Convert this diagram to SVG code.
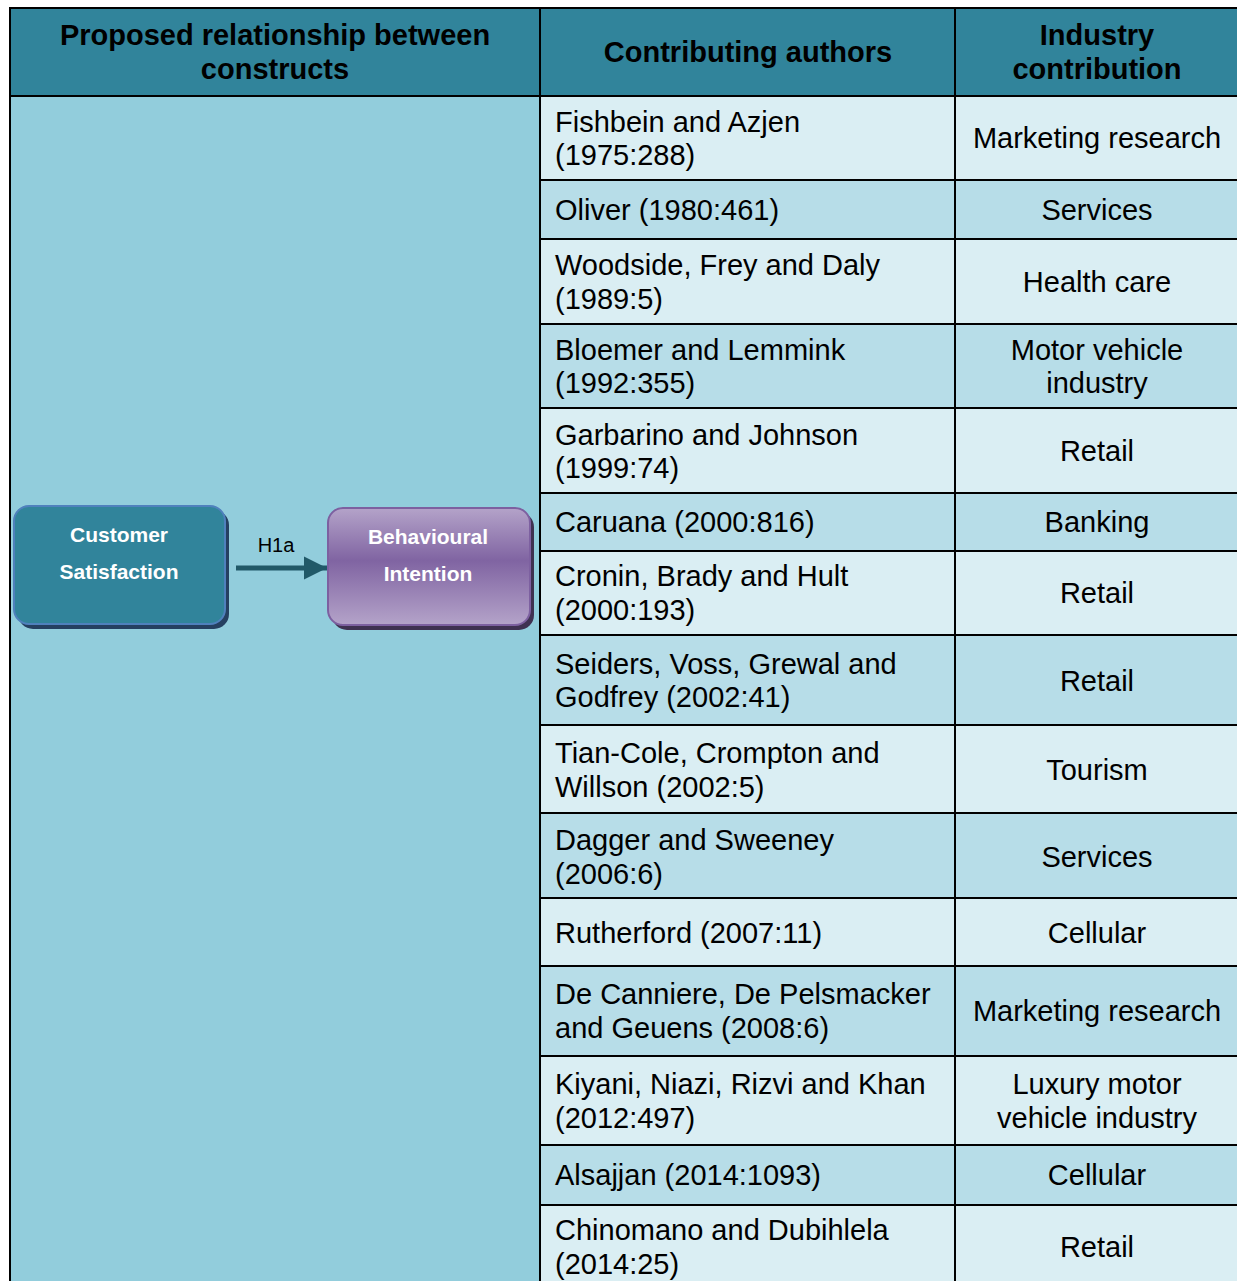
<svg xmlns="http://www.w3.org/2000/svg" width="1237" height="1281" viewBox="0 0 1237 1281">
  <style>
    .hdr { font-family: "Liberation Sans", Arial, sans-serif; font-size: 29px; font-weight: bold; fill: #000; text-anchor: middle; }
    .au { font-family: "Liberation Sans", Arial, sans-serif; font-size: 29px; fill: #000; }
    .ind { font-family: "Liberation Sans", Arial, sans-serif; font-size: 29px; fill: #000; text-anchor: middle; }
    .node-label { font-family: "Liberation Sans", Arial, sans-serif; font-size: 21px; font-weight: bold; fill: #fff; text-anchor: middle; }
    .edge-label { font-family: "Liberation Sans", Arial, sans-serif; font-size: 20px; fill: #000; text-anchor: middle; }
    .light { fill: #DAEEF3; }
    .dark { fill: #B7DDE8; }
    .grid { stroke: #000; stroke-width: 2; fill: none; }
  </style>
  <defs>
    <linearGradient id="purpleFill" x1="0" y1="0" x2="0" y2="1">
      <stop offset="0" stop-color="#B4A3C9"/>
      <stop offset="0.45" stop-color="#8064A2"/>
      <stop offset="1" stop-color="#B4A3C9"/>
    </linearGradient>
    <marker id="arrowHead" viewBox="0 0 10 10" refX="10" refY="5" markerWidth="4.6" markerHeight="5" orient="auto" markerUnits="strokeWidth">
      <path d="M0,0 L10,5 L0,10 Z" fill="#215968"/>
    </marker>
  </defs>

  <rect width="1237" height="1281" fill="#fff"/>

  <!-- header band -->
  <rect x="9" y="8" width="1240" height="88" fill="#31849B"/>

  <!-- left column background -->
  <rect x="9" y="96" width="531" height="1200" fill="#92CDDC"/>

  <!-- alternating row bands -->
  <g id="rows">
    <rect class="light" x="540" y="96" width="710" height="84"/>
    <rect class="dark" x="540" y="180" width="710" height="59"/>
    <rect class="light" x="540" y="239" width="710" height="85"/>
    <rect class="dark" x="540" y="324" width="710" height="84"/>
    <rect class="light" x="540" y="408" width="710" height="85"/>
    <rect class="dark" x="540" y="493" width="710" height="58"/>
    <rect class="light" x="540" y="551" width="710" height="84"/>
    <rect class="dark" x="540" y="635" width="710" height="90"/>
    <rect class="light" x="540" y="725" width="710" height="88"/>
    <rect class="dark" x="540" y="813" width="710" height="85"/>
    <rect class="light" x="540" y="898" width="710" height="68"/>
    <rect class="dark" x="540" y="966" width="710" height="90"/>
    <rect class="light" x="540" y="1056" width="710" height="89"/>
    <rect class="dark" x="540" y="1145" width="710" height="60"/>
    <rect class="light" x="540" y="1205" width="710" height="90"/>
  </g>

  <!-- table rules -->
  <g id="gridlines" class="grid">
    <path d="M9,8 H1250 M9,96 H1250"/>
    <path d="M10,8 V1290 M540,8 V1290 M955,8 V1290"/>
    <path d="M540,180 H1250 M540,239 H1250 M540,324 H1250 M540,408 H1250 M540,493 H1250 M540,551 H1250 M540,635 H1250 M540,725 H1250 M540,813 H1250 M540,898 H1250 M540,966 H1250 M540,1056 H1250 M540,1145 H1250 M540,1205 H1250"/>
  </g>

  <!-- column headings -->
  <g id="headings">
    <text class="hdr" x="275" y="45">Proposed relationship between</text>
    <text class="hdr" x="275" y="79">constructs</text>
    <text class="hdr" x="748" y="62">Contributing authors</text>
    <text class="hdr" x="1097" y="45">Industry</text>
    <text class="hdr" x="1097" y="79">contribution</text>
  </g>

  <!-- author column -->
  <g id="authors">
    <text class="au" x="555" y="132">Fishbein and Azjen</text>
    <text class="au" x="555" y="165">(1975:288)</text>
    <text class="au" x="555" y="220">Oliver (1980:461)</text>
    <text class="au" x="555" y="275">Woodside, Frey and Daly</text>
    <text class="au" x="555" y="309">(1989:5)</text>
    <text class="au" x="555" y="360">Bloemer and Lemmink</text>
    <text class="au" x="555" y="393">(1992:355)</text>
    <text class="au" x="555" y="445">Garbarino and Johnson</text>
    <text class="au" x="555" y="478">(1999:74)</text>
    <text class="au" x="555" y="532">Caruana (2000:816)</text>
    <text class="au" x="555" y="586">Cronin, Brady and Hult</text>
    <text class="au" x="555" y="620">(2000:193)</text>
    <text class="au" x="555" y="674">Seiders, Voss, Grewal and</text>
    <text class="au" x="555" y="707">Godfrey (2002:41)</text>
    <text class="au" x="555" y="763">Tian-Cole, Crompton and</text>
    <text class="au" x="555" y="797">Willson (2002:5)</text>
    <text class="au" x="555" y="850">Dagger and Sweeney</text>
    <text class="au" x="555" y="884">(2006:6)</text>
    <text class="au" x="555" y="943">Rutherford (2007:11)</text>
    <text class="au" x="555" y="1004">De Canniere, De Pelsmacker</text>
    <text class="au" x="555" y="1038">and Geuens (2008:6)</text>
    <text class="au" x="555" y="1094">Kiyani, Niazi, Rizvi and Khan</text>
    <text class="au" x="555" y="1128">(2012:497)</text>
    <text class="au" x="555" y="1185">Alsajjan (2014:1093)</text>
    <text class="au" x="555" y="1240">Chinomano and Dubihlela</text>
    <text class="au" x="555" y="1274">(2014:25)</text>
  </g>

  <!-- industry column -->
  <g id="industries">
    <text class="ind" x="1097" y="148">Marketing research</text>
    <text class="ind" x="1097" y="220">Services</text>
    <text class="ind" x="1097" y="292">Health care</text>
    <text class="ind" x="1097" y="360">Motor vehicle</text>
    <text class="ind" x="1097" y="393">industry</text>
    <text class="ind" x="1097" y="461">Retail</text>
    <text class="ind" x="1097" y="532">Banking</text>
    <text class="ind" x="1097" y="603">Retail</text>
    <text class="ind" x="1097" y="691">Retail</text>
    <text class="ind" x="1097" y="780">Tourism</text>
    <text class="ind" x="1097" y="867">Services</text>
    <text class="ind" x="1097" y="943">Cellular</text>
    <text class="ind" x="1097" y="1021">Marketing research</text>
    <text class="ind" x="1097" y="1094">Luxury motor</text>
    <text class="ind" x="1097" y="1128">vehicle industry</text>
    <text class="ind" x="1097" y="1185">Cellular</text>
    <text class="ind" x="1097" y="1257">Retail</text>
  </g>

  <!-- construct nodes -->
  <g id="node-satisfaction">
    <rect x="18" y="510" width="211" height="119" rx="15" fill="#254061"/>
    <rect x="14" y="506" width="211" height="118" rx="15" fill="#31849B" stroke="#4F81BD" stroke-width="2"/>
    <text class="node-label" x="119" y="542">Customer</text>
    <text class="node-label" x="119" y="579">Satisfaction</text>
  </g>
  <g id="node-intention">
    <rect x="332" y="512" width="202" height="118" rx="15" fill="#3F3151"/>
    <rect x="328" y="508" width="202" height="117" rx="15" fill="url(#purpleFill)" stroke="#7D60A0" stroke-width="2"/>
    <text class="node-label" x="428" y="544">Behavioural</text>
    <text class="node-label" x="428" y="581">Intention</text>
  </g>

  <!-- connector -->
  <g id="connectors">
    <line x1="236" y1="568" x2="327" y2="568" stroke="#215968" stroke-width="5" marker-end="url(#arrowHead)"/>
    <text class="edge-label" x="276" y="552">H1a</text>
  </g>
</svg>
